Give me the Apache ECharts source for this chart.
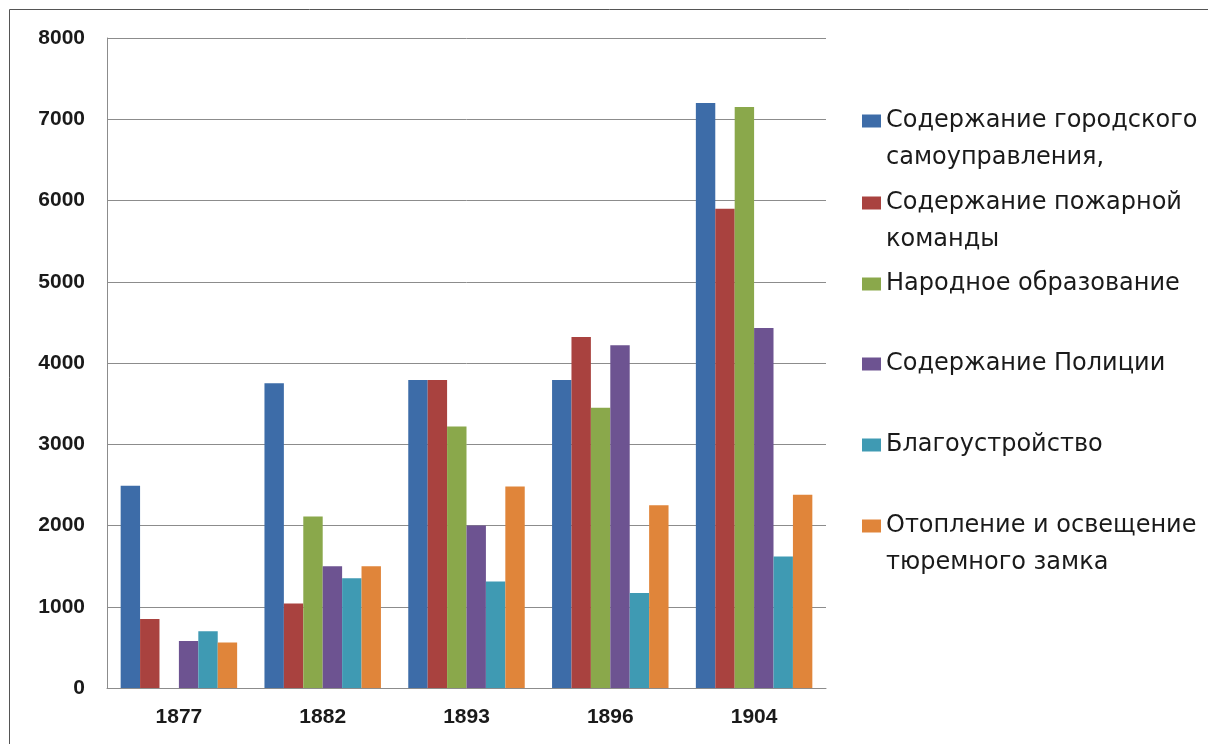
<!DOCTYPE html>
<html>
<head>
<meta charset="utf-8">
<script src="https://cdn.jsdelivr.net/npm/echarts@6/dist/echarts.min.js"></script>
<style>
  html, body { margin: 0; padding: 0; background: #fff; }
  #chart { width: 1208px; height: 744px; }
</style>
</head>
<body>
<div id="chart"></div>
<script>
// года
const years = ['1877', '1882', '1893', '1896', '1904']
// статьи расходов (подписи легенды, вторая строка через \n)
const seriesNames = [
  'Содержание городского\nсамоуправления,',
  'Содержание пожарной\nкоманды',
  'Народное образование',
  'Содержание Полиции',
  'Благоустройство',
  'Отопление и освещение\nтюремного замка'
]
// значения по годам
const gorod = [2490, 3750, 3790, 3790, 7200]
const pozhar = [850, 1040, 3790, 4320, 5900]
const obraz = [null, 2110, 3220, 3450, 7150]
const policia = [580, 1500, 2000, 4220, 4430]
const blago = [700, 1350, 1310, 1170, 1620]
const otoplenie = [560, 1500, 2480, 2250, 2380]
const yTicks = [0, 1000, 2000, 3000, 4000, 5000, 6000, 7000, 8000]

const values = [gorod, pozhar, obraz, policia, blago, otoplenie]
const colors = ['#3d6ca8', '#a9423f', '#8aa84b', '#6d5391', '#3f9ab3', '#e0853a']

const chart = echarts.init(document.getElementById('chart'))

const LH = 37
// центры первой строки пунктов легенды
const legendCenters = [121, 203, 284, 364, 445, 526]

// отдельная легенда на каждый пункт, чтобы маркер стоял у первой строки
const legends = seriesNames.map((name, i) => {
  const twoLines = name.indexOf('\n') >= 0
  return {
    orient: 'vertical',
    left: 862,
    top: twoLines ? legendCenters[i] - LH * 1.5 : legendCenters[i] - LH / 2,
    padding: 0,
    itemWidth: 19,
    itemHeight: 13,
    icon: 'rect',
    selectedMode: false,
    data: [name],
    formatter: n => twoLines ? '\n' + n : n,
    textStyle: {
      fontFamily: 'DejaVu Sans',
      fontSize: 24,
      color: '#1a1a1a',
      lineHeight: LH
    }
  }
})

const option = {
  backgroundColor: '#fff',
  animation: false,
  color: colors,
  grid: {
    left: 107,
    right: 382,
    top: 38,
    bottom: 56
  },
  legend: legends,
  xAxis: {
    type: 'category',
    data: years,
    axisLine: { lineStyle: { color: '#8c8c8c', width: 1 } },
    axisTick: { show: false },
    axisLabel: {
      margin: 19,
      fontFamily: 'Liberation Sans',
      fontWeight: 'bold',
      fontSize: 21,
      color: '#1a1a1a'
    }
  },
  yAxis: {
    type: 'value',
    min: yTicks[0],
    max: yTicks[yTicks.length - 1],
    interval: 1000,
    axisLine: { show: true, lineStyle: { color: '#8c8c8c', width: 1 } },
    axisTick: { show: false },
    splitLine: { lineStyle: { color: '#8c8c8c', width: 1 } },
    axisLabel: {
      margin: 22,
      formatter: v => String(v),
      fontFamily: 'Liberation Sans',
      fontWeight: 'bold',
      fontSize: 21,
      color: '#1a1a1a'
    }
  },
  series: seriesNames.map((name, i) => ({
    name: name,
    type: 'bar',
    data: values[i],
    barGap: 0,
    barCategoryGap: '19%'
  })),
  graphic: [{
    type: 'rect',
    shape: { x: 9.5, y: 9.5, width: 1220, height: 760 },
    style: { fill: null, stroke: '#555', lineWidth: 1 },
    silent: true
  }]
}

chart.setOption(option)
window.onresize = function () {
  chart.resize()
}
</script>
</body>
</html>
